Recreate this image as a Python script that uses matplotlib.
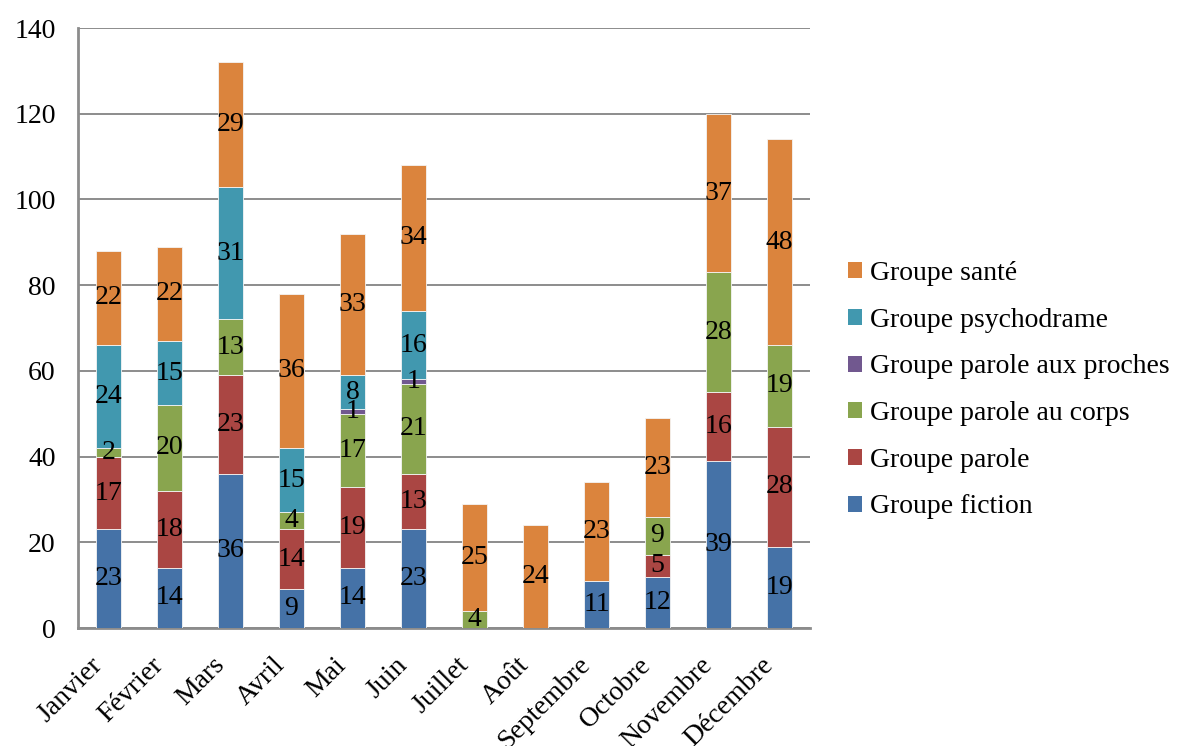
import matplotlib
matplotlib.use("Agg")
import matplotlib.pyplot as plt
import matplotlib.transforms as mtransforms
import numpy as np
from matplotlib.patches import Patch

months = ["Janvier", "Février", "Mars", "Avril", "Mai", "Juin", "Juillet",
          "Août", "Septembre", "Octobre", "Novembre", "Décembre"]

fiction = [23, 14, 36, 9, 14, 23, 0, 0, 11, 12, 39, 19]
parole = [17, 18, 23, 14, 19, 13, 0, 0, 0, 5, 16, 28]
parole_corps = [2, 20, 13, 4, 17, 21, 4, 0, 0, 9, 28, 19]
parole_proches = [0, 0, 0, 0, 1, 1, 0, 0, 0, 0, 0, 0]
psychodrame = [24, 15, 31, 15, 8, 16, 0, 0, 0, 0, 0, 0]
sante = [22, 22, 29, 36, 33, 34, 25, 24, 23, 23, 37, 48]

series = [
    ("Groupe fiction", fiction, "#4572A7"),
    ("Groupe parole", parole, "#AA4643"),
    ("Groupe parole au corps", parole_corps, "#89A54E"),
    ("Groupe parole aux proches", parole_proches, "#71588F"),
    ("Groupe psychodrame", psychodrame, "#4198AF"),
    ("Groupe santé", sante, "#DB843D"),
]

plt.rcParams["font.family"] = ["Liberation Serif", "DejaVu Serif"]
FS = 20

fig = plt.figure(figsize=(11.77, 7.46), dpi=100)
ax = fig.add_axes([78 / 1177, 1 - 628 / 746, (810 - 78) / 1177, (628 - 28) / 746])

x = np.arange(len(months))
bottom = np.zeros(len(months))
handles = []
for name, vals, color in series:
    vals = np.array(vals, dtype=float)
    ax.bar(x, vals, width=0.42, bottom=bottom, color=color,
           edgecolor="#f4f4f4", linewidth=0.6, zorder=3)
    for xi, b, v in zip(x, bottom, vals):
        if v > 0:
            ax.text(xi, b + v / 2, f"{int(v)}", ha="center", va="center",
                    fontsize=FS, color="black", zorder=4)
    bottom += vals
    handles.append(Patch(facecolor=color, label=name))

ax.set_xlim(-0.5, len(months) - 0.5)
ax.set_ylim(0, 140)
ax.set_yticks(np.arange(0, 141, 20))
ax.tick_params(axis="y", length=0, labelsize=FS, pad=16)
ax.tick_params(axis="x", length=0, labelsize=FS, pad=24)
ax.set_xticks(x)
ax.set_xticklabels(months, rotation=45, ha="right", va="center",
                   rotation_mode="anchor")
shift = mtransforms.ScaledTranslation(-10 / 100, 0, fig.dpi_scale_trans)
for lbl in ax.get_xticklabels():
    lbl.set_transform(lbl.get_transform() + shift)
ax.grid(axis="y", color="#8c8c8c", linewidth=1.4, zorder=0)
for side in ["top", "right"]:
    ax.spines[side].set_visible(False)
for side in ["left", "bottom"]:
    ax.spines[side].set_color("#8c8c8c")
    ax.spines[side].set_linewidth(2)

fig.legend(handles=handles[::-1], loc="upper left",
           bbox_to_anchor=(837 / 1177, 1 - 250 / 746), frameon=False,
           fontsize=FS, handlelength=0.5, handleheight=0.5,
           handletextpad=0.3, labelspacing=0.78, borderaxespad=0)

fig.savefig("out.png", dpi=100)
